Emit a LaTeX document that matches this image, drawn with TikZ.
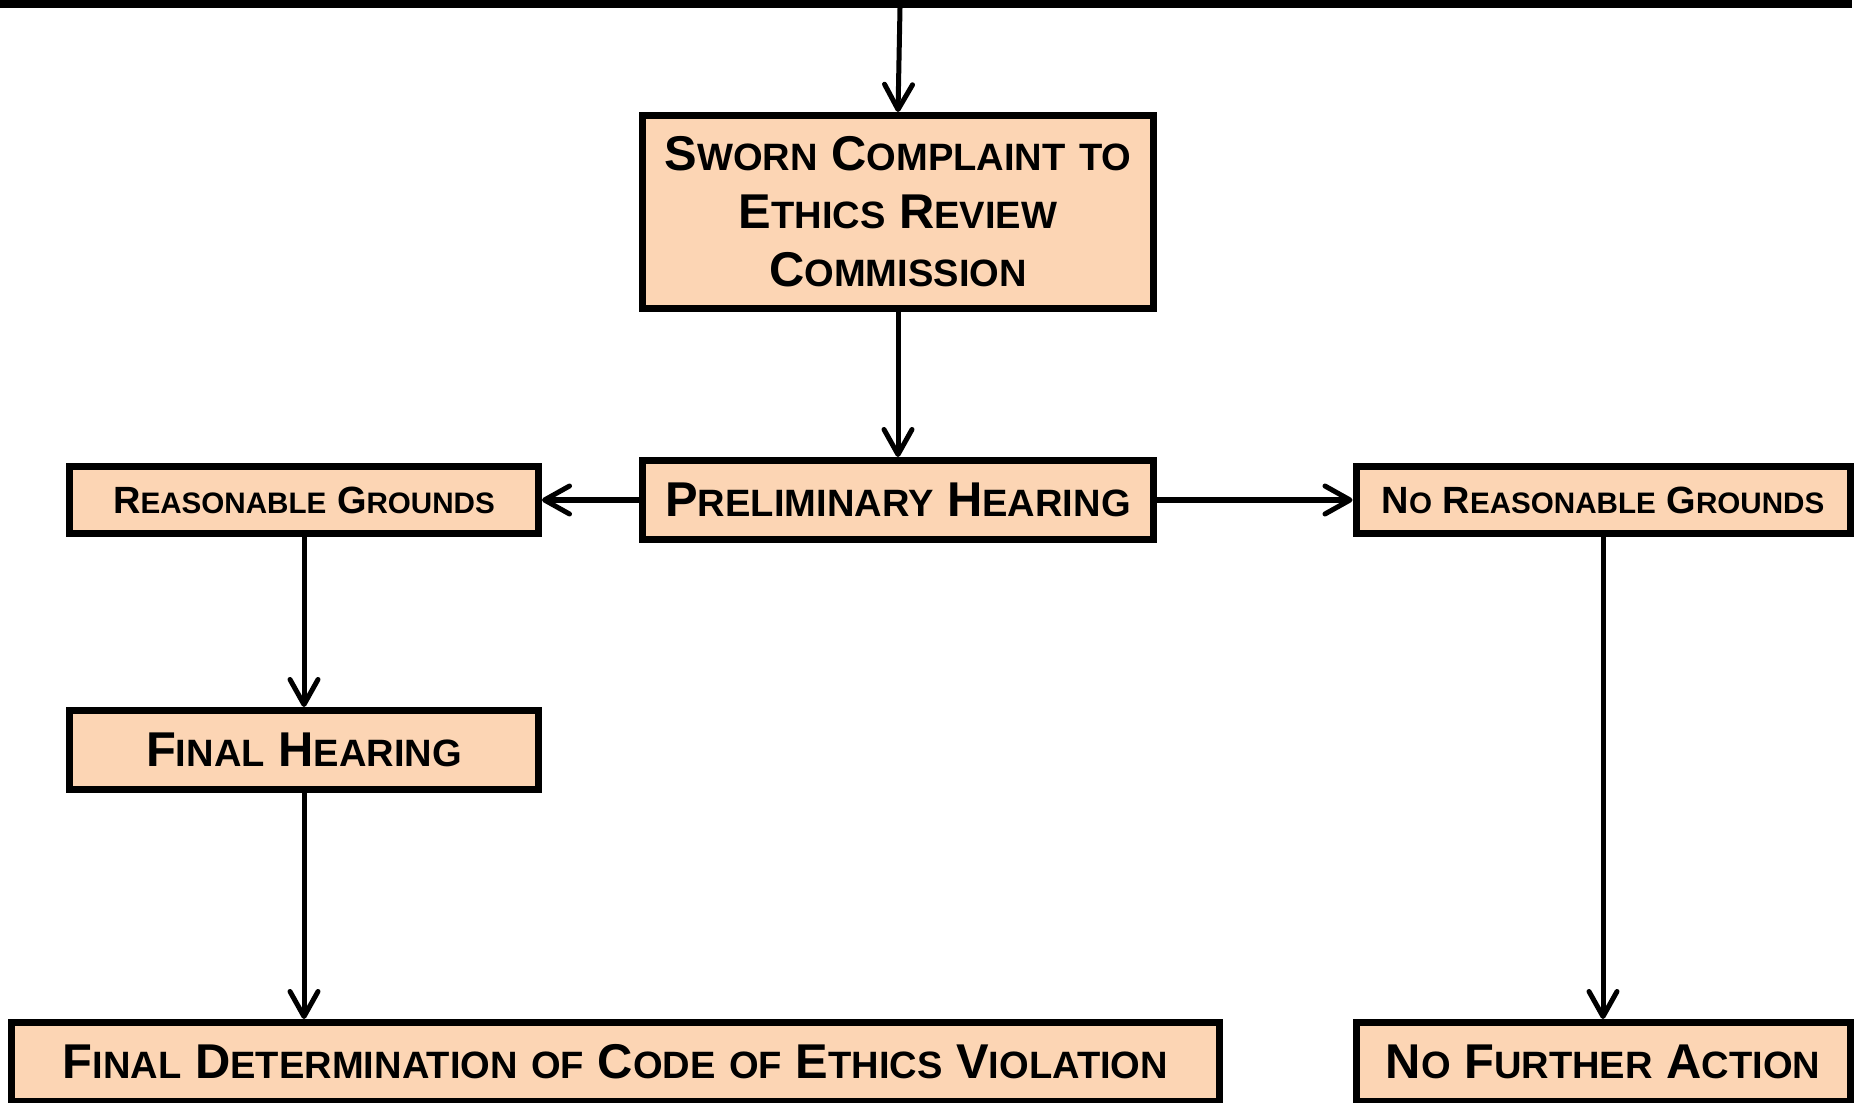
\documentclass[tikz,border=0pt]{standalone}
\usepackage{fontspec}
\setmainfont{Liberation Sans}
\usepackage{graphicx}
\definecolor{BoxPeach}{RGB}{252, 213, 180}
\usepackage{tikz}
\usetikzlibrary{arrows.meta, positioning}

\newcommand{\smc}[1]{\scalebox{0.78}{#1}}

\begin{document}
\begin{tikzpicture}[
    box/.style={draw, line width=0.07cm, fill=BoxPeach, inner sep=0pt, align=center,
                font=\bfseries\fontsize{13.9}{16.5}\selectfont},
    smallbox/.style={box, font=\bfseries\fontsize{10.8}{13}\selectfont},
    arr/.style={line width=0.05cm, -{Straight Barb[length=2.5mm, width=2.8mm, round]}}
  ]
                \useasboundingbox (0,0) rectangle (18.58,-11.03);

                % Top bar
                \draw[line width=0.08cm] (0,-0.04) -- (18.52,-0.04);
                \coordinate (topbar) at (9.00,-0.08);

                % Boxes
                \node[box, minimum width=5.11cm, minimum height=1.93cm] (sworn) at (8.98,-2.12)
                    {S\smc{WORN} C\smc{OMPLAINT} \smc{TO}\\ E\smc{THICS} R\smc{EVIEW}\\ C\smc{OMMISSION}};
                \node[box, minimum width=5.11cm, minimum height=0.79cm] (prelim) at (8.98,-5.00)
                    {P\smc{RELIMINARY} H\smc{EARING}};
                \node[smallbox, minimum width=4.69cm, minimum height=0.67cm] (grounds) at (3.04,-5.00)
                    {R\smc{EASONABLE} G\smc{ROUNDS}};
                \node[smallbox, minimum width=4.94cm, minimum height=0.67cm] (nogrounds) at (16.03,-5.00)
                    {N\smc{O} R\smc{EASONABLE} G\smc{ROUNDS}};
                \node[box, minimum width=4.69cm, minimum height=0.79cm] (final) at (3.04,-7.50)
                    {F\smc{INAL} H\smc{EARING}};
                \node[box, minimum width=12.08cm, minimum height=0.79cm] (determination) at (6.155,-10.62)
                    {F\smc{INAL} D\smc{ETERMINATION} \smc{OF} C\smc{ODE} \smc{OF} E\smc{THICS} V\smc{IOLATION}};
                \node[box, minimum width=4.94cm, minimum height=0.79cm] (noaction) at (16.03,-10.62)
                    {N\smc{O} F\smc{URTHER} A\smc{CTION}};

                % Arrows
                \draw[arr] (topbar) -- (sworn.north);
                \draw[arr] (sworn) -- (prelim);
                \draw[arr] (prelim) -- (grounds);
                \draw[arr] (prelim) -- (nogrounds);
                \draw[arr] (grounds) -- (final);
                \draw[arr] (final.south) -- (final.south |- determination.north);
                \draw[arr] (nogrounds) -- (noaction);
\end{tikzpicture}
\end{document}
